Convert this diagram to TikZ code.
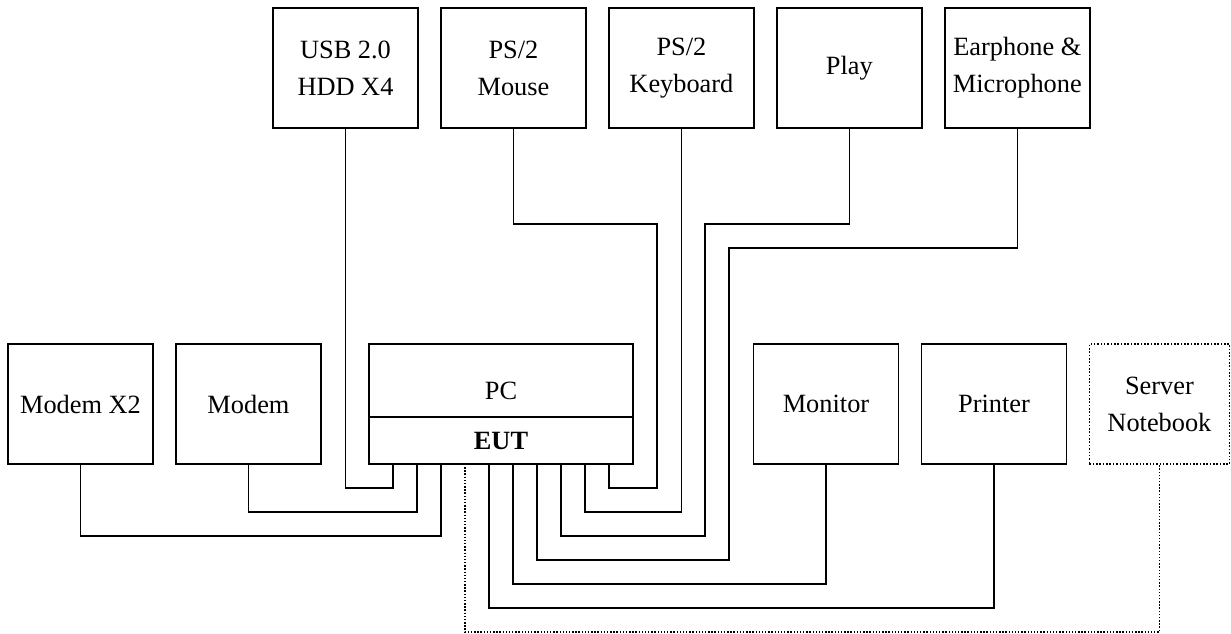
\documentclass[tikz,border=0pt]{standalone}
\usepackage{fontspec}
\setmainfont{Liberation Serif}
\usetikzlibrary{positioning}
\usetikzlibrary{calc}

\begin{document}
\begin{tikzpicture}[
    x=0.02cm, y=-0.02cm,
    node distance=0.46cm and 0.46cm,
    every node/.style={font=\fontsize{15}{21}\selectfont},
    device/.style={draw, line width=0.9pt, minimum width=2.9cm, minimum height=2.4cm, align=center, inner sep=0pt, outer sep=0pt},
    cable/.style={line width=0.9pt},
    spare/.style={densely dotted, line width=0.8pt}
]
\useasboundingbox (0,0) rectangle (1231,633);
\node[device] (usb) at (345.5,68) {USB 2.0\\HDD X4};
\node[device, right=of usb] (mouse) {PS/2\\Mouse};
\node[device, right=of mouse] (kbd) {PS/2\\Keyboard};
\node[device, right=of kbd] (play) {Play};
\node[device, right=of play] (ear) {Earphone \&\\Microphone};

\node[device] (modemx) at (80.5,404) {Modem X2};
\node[device, right=of modemx] (modem) {Modem};
\node[device, minimum width=5.28cm, minimum height=1.46cm] (pc) at (501,380.5) {};
\node (pclabel) at ([yshift=-0.2cm]pc.center) {PC};
\node[device, minimum width=5.28cm, minimum height=0.94cm, below=0pt of pc] (eut) {\textbf{EUT}};
\node[device] (monitor) at (826,404) {Monitor};
\node[device, right=of monitor] (printer) {Printer};
\node[device, spare, minimum width=2.8cm, right=of printer] (server) {Server\\Notebook};

\foreach \i in {1,...,10}
    \coordinate (p\i) at ($(eut.south west)+(\i*24,0)$);

\draw[cable] (p1) -- ++(0,24) -| (usb.south);
\draw[cable] (p2) -- ++(0,48) -| (modem.south);
\draw[cable] (p3) -- ++(0,72) -| (modemx.south);
\draw[spare] (p4) -- ++(0,168) -| (server.south);
\draw[cable] (p5) -- ++(0,144) -| (printer.south);
\draw[cable] (p6) -- ++(0,120) -| (monitor.south);
\draw[cable] (p7) -- ++(0,96) -- ++(192,0) |- ([yshift=-2.4cm]ear.south) -- (ear.south);
\draw[cable] (p8) -- ++(0,72) -- ++(144,0) |- ([yshift=-1.92cm]play.south) -- (play.south);
\draw[cable] (p9) -- ++(0,48) -| (kbd.south);
\draw[cable] (p10) -- ++(0,24) -- ++(48,0) |- ([yshift=-1.92cm]mouse.south) -- (mouse.south);
\end{tikzpicture}
\end{document}
